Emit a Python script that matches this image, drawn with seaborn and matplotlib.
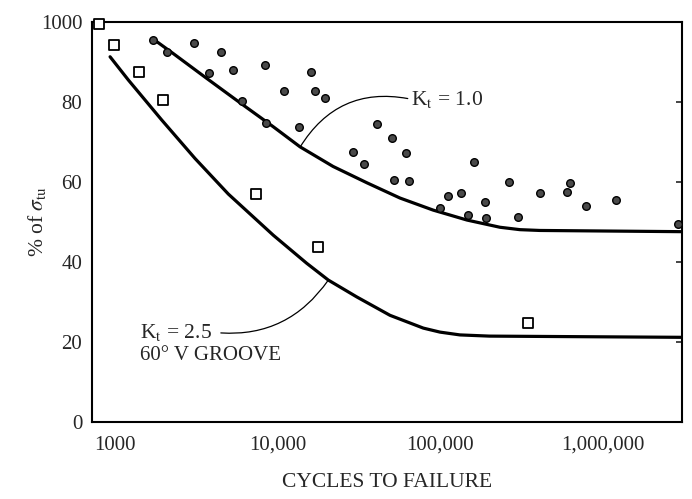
import numpy as np
import pandas as pd
import matplotlib
matplotlib.use('Agg')
import matplotlib.pyplot as plt
import seaborn as sns

# test points
sq_cycles = [795, 990, 1400, 1980, 7400, 17600, 347000]
sq_pct = [99.5, 94.3, 87.4, 80.5, 56.9, 43.7, 24.8]

dot_cycles = [1720, 2100, 3070, 3770, 4500, 5310, 6040, 8320, 8510, 10980,
              13570, 15950, 16940, 19450, 29150, 34050, 40900, 50200, 51600,
              61200, 64100, 99400, 110800, 134300, 148300, 160200, 188000,
              189700, 264000, 300000, 407000, 600000, 623000, 781000,
              1194000, 2870000]
dot_pct = [95.5, 92.6, 94.7, 87.3, 92.4, 87.9, 80.3, 89.2, 74.7, 82.8,
           73.8, 87.6, 82.7, 80.9, 67.6, 64.6, 74.4, 70.9, 60.5,
           67.2, 60.2, 53.4, 56.5, 57.2, 51.7, 65.0, 55.0,
           50.9, 60.1, 51.3, 57.2, 57.4, 59.7, 54.1,
           55.5, 49.4]

# fitted curves (traced)
kt1_cycles = [1720, 2280, 3660, 5870, 9400, 13710, 21880, 35390, 56450,
              90060, 145700, 232300, 308300, 409000, 3000000]
kt1_pct = [95.7, 92.1, 85.9, 79.8, 73.8, 68.8, 63.9, 59.8, 56.0,
           53.0, 50.5, 48.7, 48.1, 47.9, 47.6]

kt25_cycles = [932, 1207, 1936, 3100, 4970, 9400, 15070, 20470,
               30590, 48980, 78520, 99430, 131800, 200000, 3000000]
kt25_pct = [91.3, 85.5, 75.5, 65.9, 57.0, 46.7, 39.7, 35.5,
            31.3, 26.7, 23.5, 22.5, 21.8, 21.5, 21.2]

xticks = [1000, 10000, 100000, 1000000]
xtick_labels = ['1000', '10,000', '100,000', '1,000,000']
xminor = [5000, 50000, 500000, 2000000]
yticks = [0, 20, 40, 60, 80, 100]
ytick_labels = ['0', '20', '40', '60', '80', '1000']

sns.set_style('white')
plt.rcParams['font.family'] = ['Liberation Serif', 'DejaVu Serif']
plt.rcParams['mathtext.fontset'] = 'stix'

fig = plt.figure(figsize=(6.92, 4.99), dpi=100)
ax = fig.add_axes([0.133, 0.154, 0.8525, 0.802])

sns.lineplot(x=kt1_cycles, y=kt1_pct, color='black', lw=2.3, sort=False,
             estimator=None, ax=ax)
sns.lineplot(x=kt25_cycles, y=kt25_pct, color='black', lw=2.3, sort=False,
             estimator=None, ax=ax)
sns.scatterplot(x=dot_cycles, y=dot_pct, marker='o', s=30, color='#4a4a4a',
                edgecolor='black', linewidth=1.0, ax=ax, zorder=3)
sns.scatterplot(x=sq_cycles, y=sq_pct, marker='s', s=45, color='white',
                edgecolor='black', linewidth=1.3, ax=ax, zorder=3, clip_on=False)

ax.set_xscale('log')
ax.set_xlim(722, 3055000)
ax.set_ylim(0, 100)

ax.set_xticks(xticks)
ax.set_xticklabels(xtick_labels)
ax.set_xticks(xminor, minor=True)
ax.set_xticklabels([], minor=True)
ax.set_yticks(yticks)
ax.set_yticklabels(ytick_labels)
ax.tick_params(axis='x', which='major', direction='in', length=11, width=1.3,
               labelsize=15, pad=10)
ax.tick_params(axis='x', which='minor', direction='in', length=6, width=1.3)
ax.tick_params(axis='y', which='major', direction='in', length=4.5, width=1.2,
               labelsize=15, pad=7, right=True)
ax.tick_params(axis='y', which='minor', left=False, right=False)

for s in ax.spines.values():
    s.set_visible(True)
    s.set_color('black')
    s.set_linewidth(1.5)

ax.set_xlabel('CYCLES TO FAILURE', fontsize=15.5, labelpad=13)
ax.set_ylabel(r'% of $\sigma_{\mathrm{tu}}$', fontsize=15.5, labelpad=-5)

ax.annotate(r'K$_\mathrm{t}$ = 1.0', xy=(13710, 68.7), xytext=(66000, 80.7),
            fontsize=15.5, ha='left', va='center',
            arrowprops=dict(arrowstyle='-', color='black', lw=0.9,
                            connectionstyle='arc3,rad=0.35',
                            shrinkA=0, shrinkB=0, relpos=(0, 0.5)))
ax.annotate(r'K$_\mathrm{t}$ = 2.5', xy=(20470, 35.5), xytext=(1425, 22.5),
            fontsize=15.5, ha='left', va='center',
            arrowprops=dict(arrowstyle='-', color='black', lw=0.9,
                            connectionstyle='arc3,rad=0.3',
                            shrinkA=4, shrinkB=0, relpos=(1, 0.5)))
ax.text(1425, 16.7, '60° V GROOVE', fontsize=15, ha='left', va='center')

fig.savefig('out.png', dpi=100)
